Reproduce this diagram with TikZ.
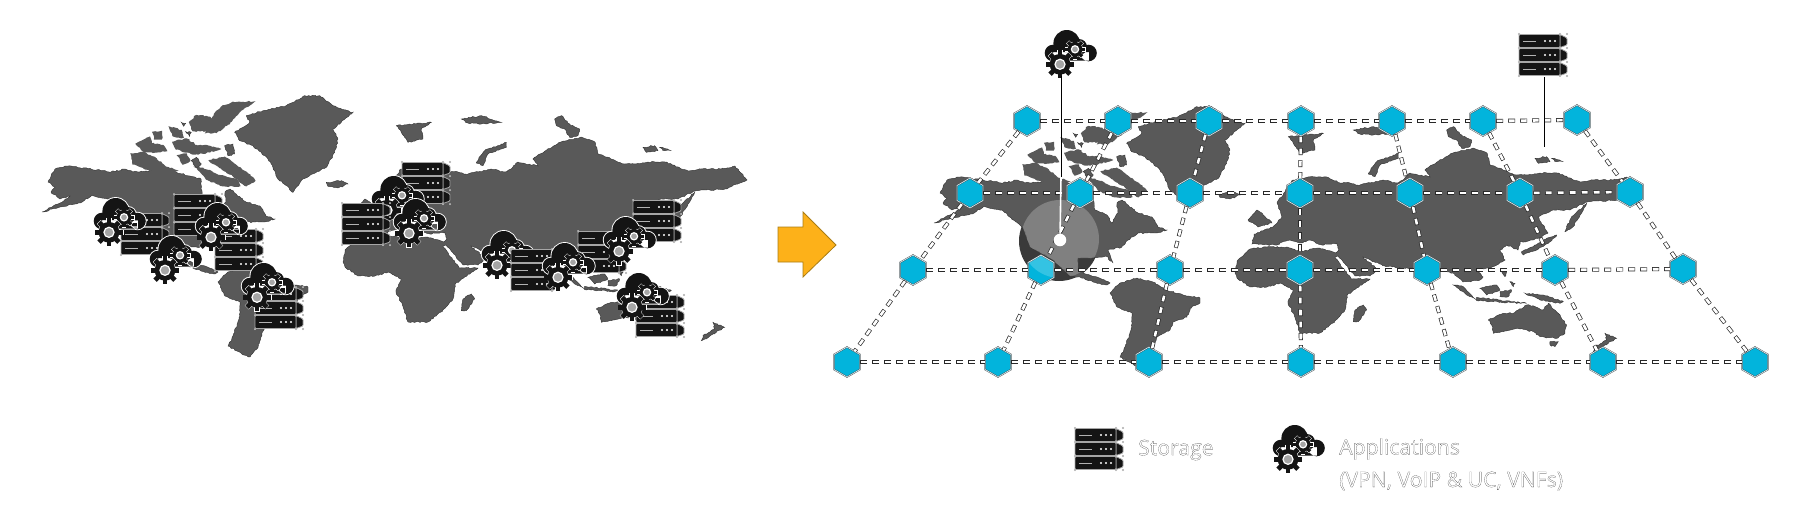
\documentclass[tikz,border=0pt]{standalone}
\usepackage{fontspec}
\usepackage{xcolor}
\usepackage{tikz}
\usetikzlibrary{shapes.geometric,decorations.pathmorphing}
\definecolor{landgray}{RGB}{89,89,89}
\definecolor{landedge}{RGB}{50,50,50}
\definecolor{hexblue}{RGB}{2,180,220}
\definecolor{hexrim}{RGB}{205,228,236}
\definecolor{arroworange}{RGB}{253,177,25}
\definecolor{arrowedge}{RGB}{170,125,20}
\definecolor{rackblack}{RGB}{20,20,20}
\definecolor{linkedge}{RGB}{40,40,40}
\definecolor{shadowgray}{RGB}{58,58,58}
\newfontfamily\legendfont[FakeBold=0.5]{Open Sans}
\newcommand{\hollow}[1]{{\special{pdf:bc [1] [0.15]}\legendfont\fontsize{21.2}{32}\selectfont #1\special{pdf:ec}}}

% gear: centre x, centre y, radius
\newcommand{\gearwheel}[3]{
  \foreach \a in {0,45,...,315}
    \draw[white,line width=.8pt,rotate around={\a:(#1,#2)}] ({#1-.17*#3},{#2-#3}) rectangle ({#1+.17*#3},{#2-.6*#3});
  \draw[white,line width=.8pt] (#1,#2) circle ({.74*#3});
  \foreach \a in {0,45,...,315}
    \fill[rackblack,rotate around={\a:(#1,#2)}] ({#1-.17*#3},{#2-#3}) rectangle ({#1+.17*#3},{#2-.6*#3});
  \fill[rackblack] (#1,#2) circle ({.74*#3});
  \draw[white,line width=1.2pt,fill=gray!70] (#1,#2) circle ({.36*#3});
}

\tikzset{
  pics/serverstack/.style={code={
    \foreach \r in {-14,0,14}{
      \draw[rackface] (16,\r-6.5) -- (23,\r-3) -- (23,\r+4) -- (16,\r+6.5) -- cycle;
      \draw[rackface] (-25,\r-6.5) rectangle (16,\r+6.5);
      \draw[gray!60,line width=1pt] (-21,\r) -- (-8,\r);
      \fill[white] (1,\r) circle (1.1) (6,\r) circle (1.1) (11,\r) circle (1.1);
    }
    \foreach \cx in {-25,16,23}
      \foreach \cy in {-21,-7,7,21}
        \draw[gray,fill=white,line width=.3pt] (\cx,\cy) circle (1);
  }},
  pics/appcloud/.style={code={
    \draw[white,line width=1.8pt] (-4.3,-10.7) circle (13.3) (-18,-1) circle (8.3) (17.5,-1) circle (8.3) (8,-7) circle (8) (-18,0) rectangle (18,6.7);
    \fill[rackblack] (-4.3,-10.7) circle (13.3) (-18,-1) circle (8.3) (17.5,-1) circle (8.3) (8,-7) circle (8) (-18,-2) rectangle (18,6.7);
    \gearwheel{4}{-4.7}{10}
    \gearwheel{-11}{10.3}{14}
  }}
}

\newcommand{\northamerica}{(940,193) -- (947,180) -- (958,177) -- (983,180) -- (1003,183) -- (1017,180) -- (1025,183) -- (1038,182) -- (1058,180) -- (1068,183) -- (1093,190) -- (1093,200) -- (1095,210) -- (1107,215) -- (1112,223) -- (1118,213) -- (1117,203) -- (1122,200) -- (1138,213) -- (1152,217) -- (1158,227) -- (1167,230) -- (1155,233) -- (1138,233) -- (1128,240) -- (1122,247) -- (1108,250) -- (1113,263) -- (1106,256) -- (1092,258) -- (1078,258) -- (1078,268) -- (1083,273) -- (1097,277) -- (1110,283) -- (1107,285) -- (1093,282) -- (1080,277) -- (1070,276) -- (1053,260) -- (1030,247) -- (1023,228) -- (1002,210) -- (983,207) -- (972,214) -- (952,218) -- (934,223) -- (952,214) -- (962,207) -- (952,210) -- (943,203) -- (947,198) -- cycle}

\newcommand{\worldmap}{
  \fill[land] \northamerica;
  % south america
  \fill[land] (1110,293) -- (1120,283) -- (1137,278) -- (1153,282) -- (1167,290) -- (1183,295) -- (1200,298) -- (1200,303) -- (1190,308) -- (1187,317) -- (1173,322) -- (1170,330) -- (1157,337) -- (1153,348) -- (1149,360) -- (1142,368) -- (1136,366) -- (1120,357) -- (1125,347) -- (1132,327) -- (1132,313) -- (1117,307) -- cycle;
  % eurasia and africa
  \fill[land] (1252,244) -- (1254,234) -- (1273,227) -- (1282,217) -- (1277,203) -- (1293,180) -- (1310,177) -- (1327,177) -- (1340,183) -- (1350,183) -- (1357,185) -- (1370,183) -- (1383,180) -- (1397,183) -- (1403,180) -- (1410,173) -- (1430,177) -- (1425,170) -- (1437,162) -- (1453,153) -- (1473,148) -- (1487,153) -- (1490,165) -- (1503,170) -- (1517,175) -- (1527,175) -- (1540,173) -- (1557,173) -- (1580,182) -- (1593,180) -- (1613,180) -- (1627,177) -- (1639,191) -- (1617,200) -- (1587,202) -- (1570,210) -- (1553,210) -- (1538,217) -- (1548,233) -- (1542,237) -- (1533,240) -- (1520,242) -- (1518,250) -- (1507,245) -- (1500,250) -- (1505,260) -- (1490,268) -- (1477,270) -- (1483,277) -- (1480,280) -- (1463,282) -- (1453,273) -- (1440,270) -- (1427,285) -- (1413,268) -- (1400,268) -- (1385,266) -- (1363,257) -- (1378,270) -- (1370,276) -- (1355,276) -- (1338,256) -- (1335,258) -- (1352,279) -- (1370,279) -- (1347,295) -- (1345,310) -- (1333,323) -- (1320,333) -- (1300,333) -- (1293,313) -- (1288,303) -- (1293,290) -- (1280,283) -- (1267,287) -- (1250,287) -- (1237,278) -- (1235,273) -- (1238,260) -- (1250,249) -- (1267,247) -- (1287,247) -- (1300,252) -- (1317,248) -- (1336,253) -- (1339,250) -- (1337,243) -- (1322,245) -- (1310,240) -- (1300,243) -- (1290,240) -- (1275,245) -- cycle;
  % canadian islands and greenland
  \begin{scope}[tilearctic]
    \begin{scope}[land,line width=1.4pt,draw=landgray]
      \fill[land,line width=1.4pt,draw=landgray] (295,195) -- (330,190) -- (370,210) -- (400,235) -- (430,245) -- (380,250) -- (340,240) -- (300,225) -- cycle;
      \fill[land,line width=1.4pt,draw=landgray] (310,165) -- (350,145) -- (355,165) -- (390,170) -- (400,185) -- (360,190) -- (330,185) -- cycle;
      \fill[land,line width=1.4pt,draw=landgray] (360,130) -- (385,128) -- (385,150) -- (365,150) -- cycle;
      \fill[land,line width=1.4pt,draw=landgray] (410,115) -- (445,125) -- (450,145) -- (420,140) -- cycle;
      \fill[land,line width=1.4pt,draw=landgray] (470,100) -- (490,80) -- (530,85) -- (545,100) -- (520,125) -- (480,125) -- cycle;
      \fill[land,line width=1.4pt,draw=landgray] (420,160) -- (460,150) -- (490,170) -- (520,170) -- (560,180) -- (520,190) -- (480,195) -- (430,180) -- cycle;
      \fill[land,line width=1.4pt,draw=landgray] (435,200) -- (460,195) -- (470,215) -- (450,225) -- cycle;
      \fill[land,line width=1.4pt,draw=landgray] (530,215) -- (575,205) -- (610,230) -- (640,250) -- (665,275) -- (640,290) -- (600,260) -- (560,235) -- cycle;
      \fill[land,line width=1.4pt,draw=landgray] (490,235) -- (530,245) -- (560,260) -- (610,270) -- (620,290) -- (570,290) -- (520,270) -- cycle;
      \fill[land,line width=1.4pt,draw=landgray] (545,75) -- (565,55) -- (600,40) -- (660,40) -- (630,60) -- (585,105) -- (550,130) -- (520,130) -- cycle;
      \fill[land] (445,100) -- (458,103) -- (452,112) -- cycle;
      \fill[land] (458,128) -- (475,130) -- (470,142) -- cycle;
      \fill[land] (475,215) -- (490,205) -- (505,225) -- (490,235) -- cycle;
      \fill[land] (575,170) -- (600,165) -- (605,195) -- (585,200) -- cycle;
    \end{scope}
    \fill[land] (605,130) -- (650,100) -- (640,80) -- (690,65) -- (760,50) -- (780,40) -- (815,20) -- (860,20) -- (900,50) -- (960,70) -- (925,100) -- (900,120) -- (915,150) -- (905,190) -- (880,235) -- (850,250) -- (810,270) -- (780,310) -- (760,290) -- (735,270) -- (725,245) -- (705,210) -- (660,170) -- (620,155) -- cycle;
    \fill[land] (880,280) -- (925,275) -- (945,285) -- (915,297) -- (885,292) -- cycle;
  \end{scope}
  % british isles
  \fill[land] (1248,220) -- (1257,210) -- (1262,213) -- (1272,223) -- (1258,227) -- cycle;
  % arctic islands
  \begin{scope}[tilenorth]
    \fill[land] (85,50) -- (190,40) -- (160,60) -- (165,90) -- (120,100) -- (100,70) -- cycle;
    \fill[land] (280,30) -- (340,20) -- (400,40) -- (340,45) -- (300,42) -- cycle;
    \fill[land] (560,30) -- (580,20) -- (605,45) -- (635,60) -- (630,80) -- (605,85) -- (590,60) -- (565,50) -- cycle;
    \fill[land] (825,115) -- (860,110) -- (870,125) -- (835,130) -- cycle;
    \fill[land] (875,115) -- (910,125) -- (885,125) -- cycle;
    \fill[land] (325,160) -- (350,125) -- (415,100) -- (415,115) -- (360,135) -- (345,170) -- cycle;
  \end{scope}
  % asia and oceania islands
  \begin{scope}[tilesouth]
    \fill[land] (190,855) -- (200,870) -- (175,905) -- (160,905) -- (165,870) -- cycle;
    \fill[land] (815,590) -- (860,550) -- (850,570) -- (820,620) -- (795,635) -- cycle;
    \fill[land] (665,695) -- (700,680) -- (730,660) -- (770,645) -- (745,670) -- (710,690) -- (670,705) -- cycle;
    \fill[land] (460,795) -- (490,800) -- (530,840) -- (500,825) -- cycle;
    \fill[land] (530,832) -- (680,850) -- (530,842) -- cycle;
    \fill[land] (540,805) -- (590,795) -- (600,810) -- (560,825) -- cycle;
    \fill[land] (605,755) -- (620,755) -- (615,770) -- cycle;
    \fill[land] (630,785) -- (645,790) -- (640,800) -- cycle;
    \fill[land] (600,815) -- (635,810) -- (625,830) -- (600,830) -- cycle;
    \fill[land] (675,820) -- (730,825) -- (790,845) -- (780,850) -- (720,840) -- cycle;
    \fill[land] (565,900) -- (610,880) -- (640,880) -- (680,855) -- (705,860) -- (730,870) -- (745,850) -- (775,880) -- (800,915) -- (795,940) -- (770,955) -- (720,950) -- (700,935) -- (650,925) -- (610,935) -- (580,940) -- (575,915) -- cycle;
    \fill[land] (750,965) -- (775,965) -- (765,980) -- (750,975) -- cycle;
    \fill[land] (915,940) -- (950,955) -- (925,970) -- (895,990) -- (880,995) -- (885,980) -- (920,960) -- cycle;
  \end{scope}
}

\begin{document}
\begin{tikzpicture}[x=1pt,y=-1pt,
    tilearctic/.style={shift={(925,100)},x=.3333pt,y=-.3333pt},
    tilenorth/.style={shift={(1260,120)},x=.3333pt,y=-.3333pt},
    tilesouth/.style={shift={(1300,20)},x=.3333pt,y=-.3333pt}]
            \tikzstyle{land}=[fill=landgray,draw=landedge,line width=.4pt,decorate,decoration={random steps,segment length=2pt,amplitude=.7pt}]
            \tikzstyle{rackface}=[fill=rackblack,draw=gray!70,line width=.8pt,rounded corners=1pt]
            \tikzstyle{hexnode}=[regular polygon,regular polygon sides=6,regular polygon rotate=30,minimum size=30pt,inner sep=0pt,fill=hexblue,draw=black!80,double=hexrim,double distance=.8pt,line width=.3pt]
            \tikzstyle{linkrim}=[draw=linkedge,line width=4pt,dash pattern=on 7pt off 5pt]
            \tikzstyle{linkcore}=[draw=white,line width=2.6pt,dash pattern=on 5.8pt off 6.2pt,dash phase=11.4pt]
            \useasboundingbox (0,0) rectangle (1800,512);

            % current state
            \begin{scope}[shift={(-892,-11)}]
              \pgfmathsetseed{7}
              \worldmap
            \end{scope}
            \foreach \px/\py in {427/183}
              \pic at (\px,\py) {serverstack};
            \pic at (398,200) {appcloud};
            \pic at (367,224) {serverstack};
            \pic at (420,223) {appcloud};
            \foreach \px/\py in {199/215,146/234,240/250,280/308}
              \pic at (\px,\py) {serverstack};
            \foreach \px/\py in {120/222,176/260,222/227,268/287}
              \pic at (\px,\py) {appcloud};
            \pic at (508,255) {appcloud};
            \foreach \px/\py in {536/270,603/252,658/221,661/316}
              \pic at (\px,\py) {serverstack};
            \foreach \px/\py in {569/267,630/241,643/297}
              \pic at (\px,\py) {appcloud};

            \draw[fill=arroworange,draw=arrowedge,line width=.8pt] (778,227) -- (803,227) -- (803,212) -- (836,245) -- (803,277) -- (803,262) -- (778,262) -- cycle;

            % target state
            \fill[shadowgray] (1059,241) circle (40);
            \pgfmathsetseed{7}
            \worldmap
            \begin{scope}
              \clip \northamerica;
              \fill[white,opacity=.235] (1060,239) circle (39);
            \end{scope}

            \foreach \cname/\px/\py in {11/1027/121,12/1118/121,13/1209/121,14/1301/121,15/1392/121,16/1483/121,17/1577/120,
                                        21/970/193,22/1080/193,23/1190/193,24/1300/193,25/1410/193,26/1520/193,27/1630/192,
                                        31/913/270,32/1041/270,33/1170/270,34/1300/270,35/1427/270,36/1555/270,37/1683/269,
                                        41/847/362,42/998/362,43/1149/362,44/1301/362,45/1453/362,46/1603/362,47/1755/362}
              \node[hexnode] (h\cname) at (\px,\py) {};
            \foreach \r in {1,2,3,4}
              \foreach \c/\d in {1/2,2/3,3/4,4/5,5/6,6/7}{
                \draw[linkrim] (h\r\c) -- (h\r\d);
                \draw[linkcore] (h\r\c) -- (h\r\d);
              }
            \foreach \c in {1,...,7}
              \foreach \r/\s in {1/2,2/3,3/4}{
                \draw[linkrim] (h\r\c) -- (h\s\c);
                \draw[linkcore] (h\r\c) -- (h\s\c);
              }

            \begin{scope}
              \clip (h32.corner 1) -- (h32.corner 2) -- (h32.corner 3) -- (h32.corner 4) -- (h32.corner 5) -- (h32.corner 6) -- cycle;
              \fill[white,opacity=.2] (1060,239) circle (39);
            \end{scope}

            \pic at (1071,54) {appcloud};
            \pic at (1544,55) {serverstack};
            \node[circle,fill=white,minimum size=12.5pt,inner sep=0pt] (pin) at (1060,240) {};
            \coordinate (appTie) at (1061,76);
            \coordinate (landTie) at (1061,177);
            \coordinate (rackTie) at (1544.5,77);
            \coordinate (rackEnd) at (1544.5,147);
            \draw[black,line width=1pt] (appTie) -- (landTie);
            \draw[white,line width=1.6pt] (landTie) -- (pin);
            \draw[black,line width=1pt] (rackTie) -- (rackEnd);

            % legend
            \pic at (1100,449) {serverstack};
            \pic at (1299,449) {appcloud};
            \node[anchor=west,inner sep=0pt] (storageText) at (1138,450) {\hollow{Storage}};
            \node[anchor=west,inner sep=0pt] (appText) at (1339,449) {\hollow{Applications}};
            \node[anchor=west,inner sep=0pt] (appNote) at (1339,481) {\hollow{(VPN, VoIP \& UC, VNFs)}};
\end{tikzpicture}
\end{document}
